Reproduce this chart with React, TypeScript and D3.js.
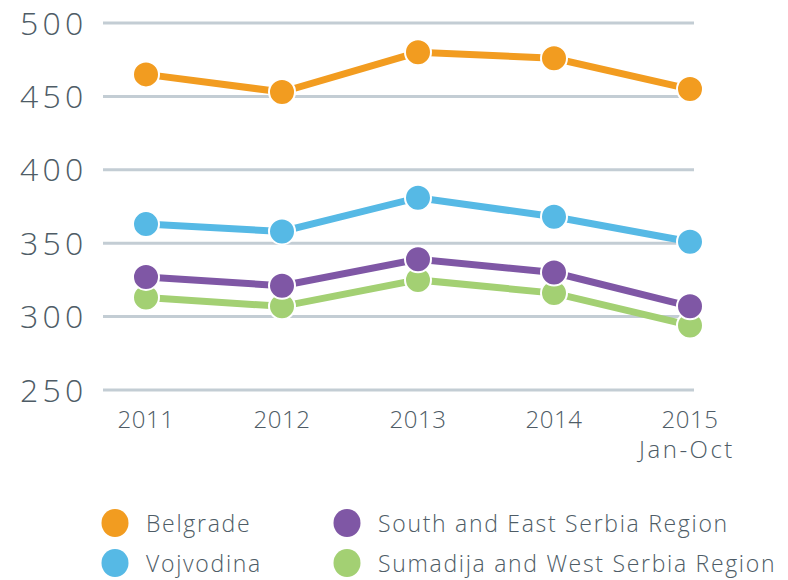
import React, { useEffect, useRef } from 'react'
import * as d3 from 'd3'

const years = ['2011', '2012', '2013', '2014', '2015']
const yearSub = ['', '', '', '', 'Jan-Oct']
const yTicks = [250, 300, 350, 400, 450, 500]

const belgrade = [465, 453, 480, 476, 455]
const vojvodina = [363, 358, 381, 368, 351]
const southEast = [327, 321, 339, 330, 307]
const sumadija = [313, 307, 325, 316, 294]

const seriesNames = ['Belgrade', 'Vojvodina', 'South and East Serbia Region', 'Sumadija and West Serbia Region']
const seriesColors = ['#F29C20', '#56B9E5', '#7F57A5', '#A3D073']
const seriesValues = [belgrade, vojvodina, southEast, sumadija]

const W = 788
const H = 580
const textColor = '#4E5C66'
const font = '"Open Sans", Lato, sans-serif'

export default function App() {
  const ref = useRef<SVGSVGElement>(null)

  useEffect(() => {
    const svg = d3.select(ref.current)
    svg.selectAll('*').remove()

    const x = d3.scalePoint<string>().domain(years).range([146, 690])
    const y = d3.scaleLinear().domain([250, 500]).range([390, 23])

    // grid + y labels
    const grid = svg.append('g')
    grid.selectAll('line')
      .data(yTicks)
      .enter()
      .append('line')
      .attr('x1', 103)
      .attr('x2', 694)
      .attr('y1', d => y(d))
      .attr('y2', d => y(d))
      .attr('stroke', '#C3CDD4')
      .attr('stroke-width', 3)

    grid.selectAll('text')
      .data(yTicks)
      .enter()
      .append('text')
      .attr('x', 20)
      .attr('y', d => y(d) + 11.5)
      .attr('font-family', font)
      .attr('font-weight', 300)
      .attr('font-size', 32)
      .attr('letter-spacing', 4.2)
      .attr('fill', textColor)
      .text(d => d)

    // x labels
    const xl = svg.append('g')
    xl.selectAll('text.yr')
      .data(years)
      .enter()
      .append('text')
      .attr('class', 'yr')
      .attr('x', d => x(d)!)
      .attr('y', 428)
      .attr('text-anchor', 'middle')
      .attr('font-family', font)
      .attr('font-weight', 300)
      .attr('font-size', 24)
      .attr('letter-spacing', 0.5)
      .attr('fill', textColor)
      .text(d => d)
    xl.selectAll('text.sub')
      .data(years.map((d, i) => ({ d, s: yearSub[i] })).filter(o => o.s))
      .enter()
      .append('text')
      .attr('class', 'sub')
      .attr('x', o => x(o.d)! - 3)
      .attr('y', 458)
      .attr('text-anchor', 'middle')
      .attr('font-family', font)
      .attr('font-weight', 300)
      .attr('font-size', 24)
      .attr('letter-spacing', 2.5)
      .attr('fill', textColor)
      .text(o => o.s)

    const line = d3.line<number>()
      .x((d, i) => x(years[i])!)
      .y(d => y(d))

    // draw bottom series first so top ones overlap like the reference
    const order = [3, 2, 1, 0]
    order.forEach(k => {
      const g = svg.append('g')
      g.append('path')
        .datum(seriesValues[k])
        .attr('d', line)
        .attr('fill', 'none')
        .attr('stroke', seriesColors[k])
        .attr('stroke-width', 7)
      g.selectAll('circle')
        .data(seriesValues[k])
        .enter()
        .append('circle')
        .attr('cx', (d, i) => x(years[i])!)
        .attr('cy', d => y(d))
        .attr('r', 13)
        .attr('fill', seriesColors[k])
        .attr('stroke', '#fff')
        .attr('stroke-width', 2)
    })

    // legend
    const legPos = [
      { cx: 115, cy: 523 },
      { cx: 115, cy: 563 },
      { cx: 347, cy: 523 },
      { cx: 347, cy: 563 },
    ]
    const leg = svg.append('g')
    const items = leg.selectAll('g')
      .data(seriesNames)
      .enter()
      .append('g')
      .attr('transform', (d, i) => 'translate(' + legPos[i].cx + ',' + legPos[i].cy + ')')
    items.append('ellipse')
      .attr('rx', 13.5)
      .attr('ry', 14)
      .attr('fill', (d, i) => seriesColors[i])
    items.append('text')
      .attr('x', 31)
      .attr('y', 9)
      .attr('font-family', font)
      .attr('font-weight', 300)
      .attr('font-size', 23)
      .attr('letter-spacing', 1.7)
      .attr('fill', textColor)
      .text(d => d)
  }, [])

  return (
    <svg
      ref={ref}
      width={W}
      height={H}
      style={{ display: 'block', position: 'absolute', left: 0, top: 0, background: '#fff' }}
    />
  )
}
